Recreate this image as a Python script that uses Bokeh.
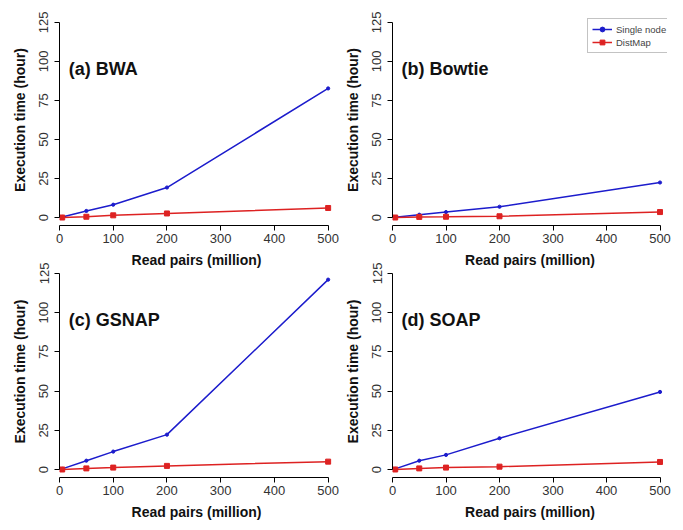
import math
from bokeh.plotting import figure
from bokeh.models import Range1d, Label, FixedTicker
from bokeh.layouts import column, row
from bokeh.embed import file_html
from bokeh.resources import INLINE

# ---- data ----
read_pairs = [5, 50, 100, 200, 500]
x_ticks = [0, 100, 200, 300, 400, 500]
y_ticks = [0, 25, 50, 75, 100, 125]

bwa_single = [0.5, 4.3, 8.3, 19.3, 82.7]
bwa_distmap = [0.1, 0.6, 1.5, 2.7, 6.2]
bowtie_single = [0.3, 1.9, 3.6, 7.0, 22.5]
bowtie_distmap = [0.1, 0.5, 0.6, 0.9, 3.6]
gsnap_single = [0.5, 5.7, 11.5, 22.3, 121.0]
gsnap_distmap = [0.1, 0.8, 1.3, 2.4, 5.1]
soap_single = [0.5, 5.7, 9.4, 20.0, 49.5]
soap_distmap = [0.1, 0.8, 1.3, 1.9, 4.9]

titles = ["(a) BWA", "(b) Bowtie", "(c) GSNAP", "(d) SOAP"]
series_names = ["Single node", "DistMap"]
x_label = "Read pairs (million)"
y_label = "Execution time (hour)"

BLUE = "#1c1ccc"
RED = "#dd2222"
FONT = "Liberation Sans"


def make_panel(title, single, distmap, width, height, left, right, top, bottom,
               x_end=510, legend=False):
    p = figure(width=width, height=height, output_backend="svg", toolbar_location=None,
               x_range=Range1d(0, x_end), y_range=Range1d(-5, 130),
               min_border_left=left, min_border_right=right,
               min_border_top=top, min_border_bottom=bottom)
    p.border_fill_color = None
    p.background_fill_color = None
    p.outline_line_color = None
    p.grid.visible = False

    for ax, ticks, bounds in ((p.xaxis[0], x_ticks, (0, 500)), (p.yaxis[0], y_ticks, (0, 125))):
        ax.ticker = FixedTicker(ticks=ticks)
        ax.bounds = bounds
        ax.axis_line_color = "black"
        ax.axis_line_width = 1
        ax.major_tick_line_color = "black"
        ax.major_tick_in = 0
        ax.major_tick_out = 5
        ax.minor_tick_line_color = None
        ax.major_label_text_font = FONT
        ax.major_label_text_font_size = "13px"
        ax.major_label_text_color = "#333333"
        ax.axis_label_text_font = FONT
        ax.axis_label_text_font_size = "14px"
        ax.axis_label_text_font_style = "bold"
        ax.axis_label_text_color = "#111111"

    p.xaxis.axis_label = x_label
    p.yaxis.axis_label = y_label
    p.xaxis.major_label_standoff = 3
    p.xaxis.axis_label_standoff = 6
    p.yaxis.major_label_orientation = "vertical"
    p.yaxis.major_label_standoff = 6
    p.yaxis.axis_label_standoff = 9

    kw1 = dict(legend_label=series_names[0]) if legend else {}
    kw2 = dict(legend_label=series_names[1]) if legend else {}
    p.line(read_pairs, single, line_color=BLUE, line_width=1.5, **kw1)
    p.scatter(read_pairs, single, marker="circle", size=3.2, fill_color=BLUE, line_color=BLUE, **kw1)
    p.line(read_pairs, distmap, line_color=RED, line_width=1.5, **kw2)
    p.scatter(read_pairs, distmap, marker="square", size=5, fill_color=RED, line_color=RED, **kw2)

    p.add_layout(Label(x=17, y=95, text=title, text_font=FONT, text_font_size="18px",
                       text_font_style="bold", text_baseline="middle", text_color="#111111"))

    if legend:
        lg = p.legend[0]
        lg.location = (195, 172)
        lg.label_text_font = FONT
        lg.label_text_font_size = "9.5px"
        lg.glyph_width = 20
        lg.glyph_height = 12
        lg.label_height = 12
        lg.spacing = 1
        lg.padding = 4
        lg.margin = 0
        lg.label_standoff = 4
        lg.border_line_color = "#888888"
        lg.border_line_width = 1
        lg.background_fill_color = "white"
        lg.background_fill_alpha = 1
    return p


pa = make_panel(titles[0], bwa_single, bwa_distmap, 333, 262, 50, 8, 6, 44)
pb = make_panel(titles[1], bowtie_single, bowtie_distmap, 334, 262, 47, 8, 6, 44,
                x_end=514, legend=True)
pc = make_panel(titles[2], gsnap_single, gsnap_distmap, 333, 260, 50, 8, 3, 45)
pd = make_panel(titles[3], soap_single, soap_distmap, 334, 260, 47, 8, 3, 45, x_end=514)

layout = column(row(pa, pb), row(pc, pd, margin=(-8, 0, 0, 0)), margin=(8, 0, 0, 8))

open("out.html", "w").write(file_html(layout, INLINE))
